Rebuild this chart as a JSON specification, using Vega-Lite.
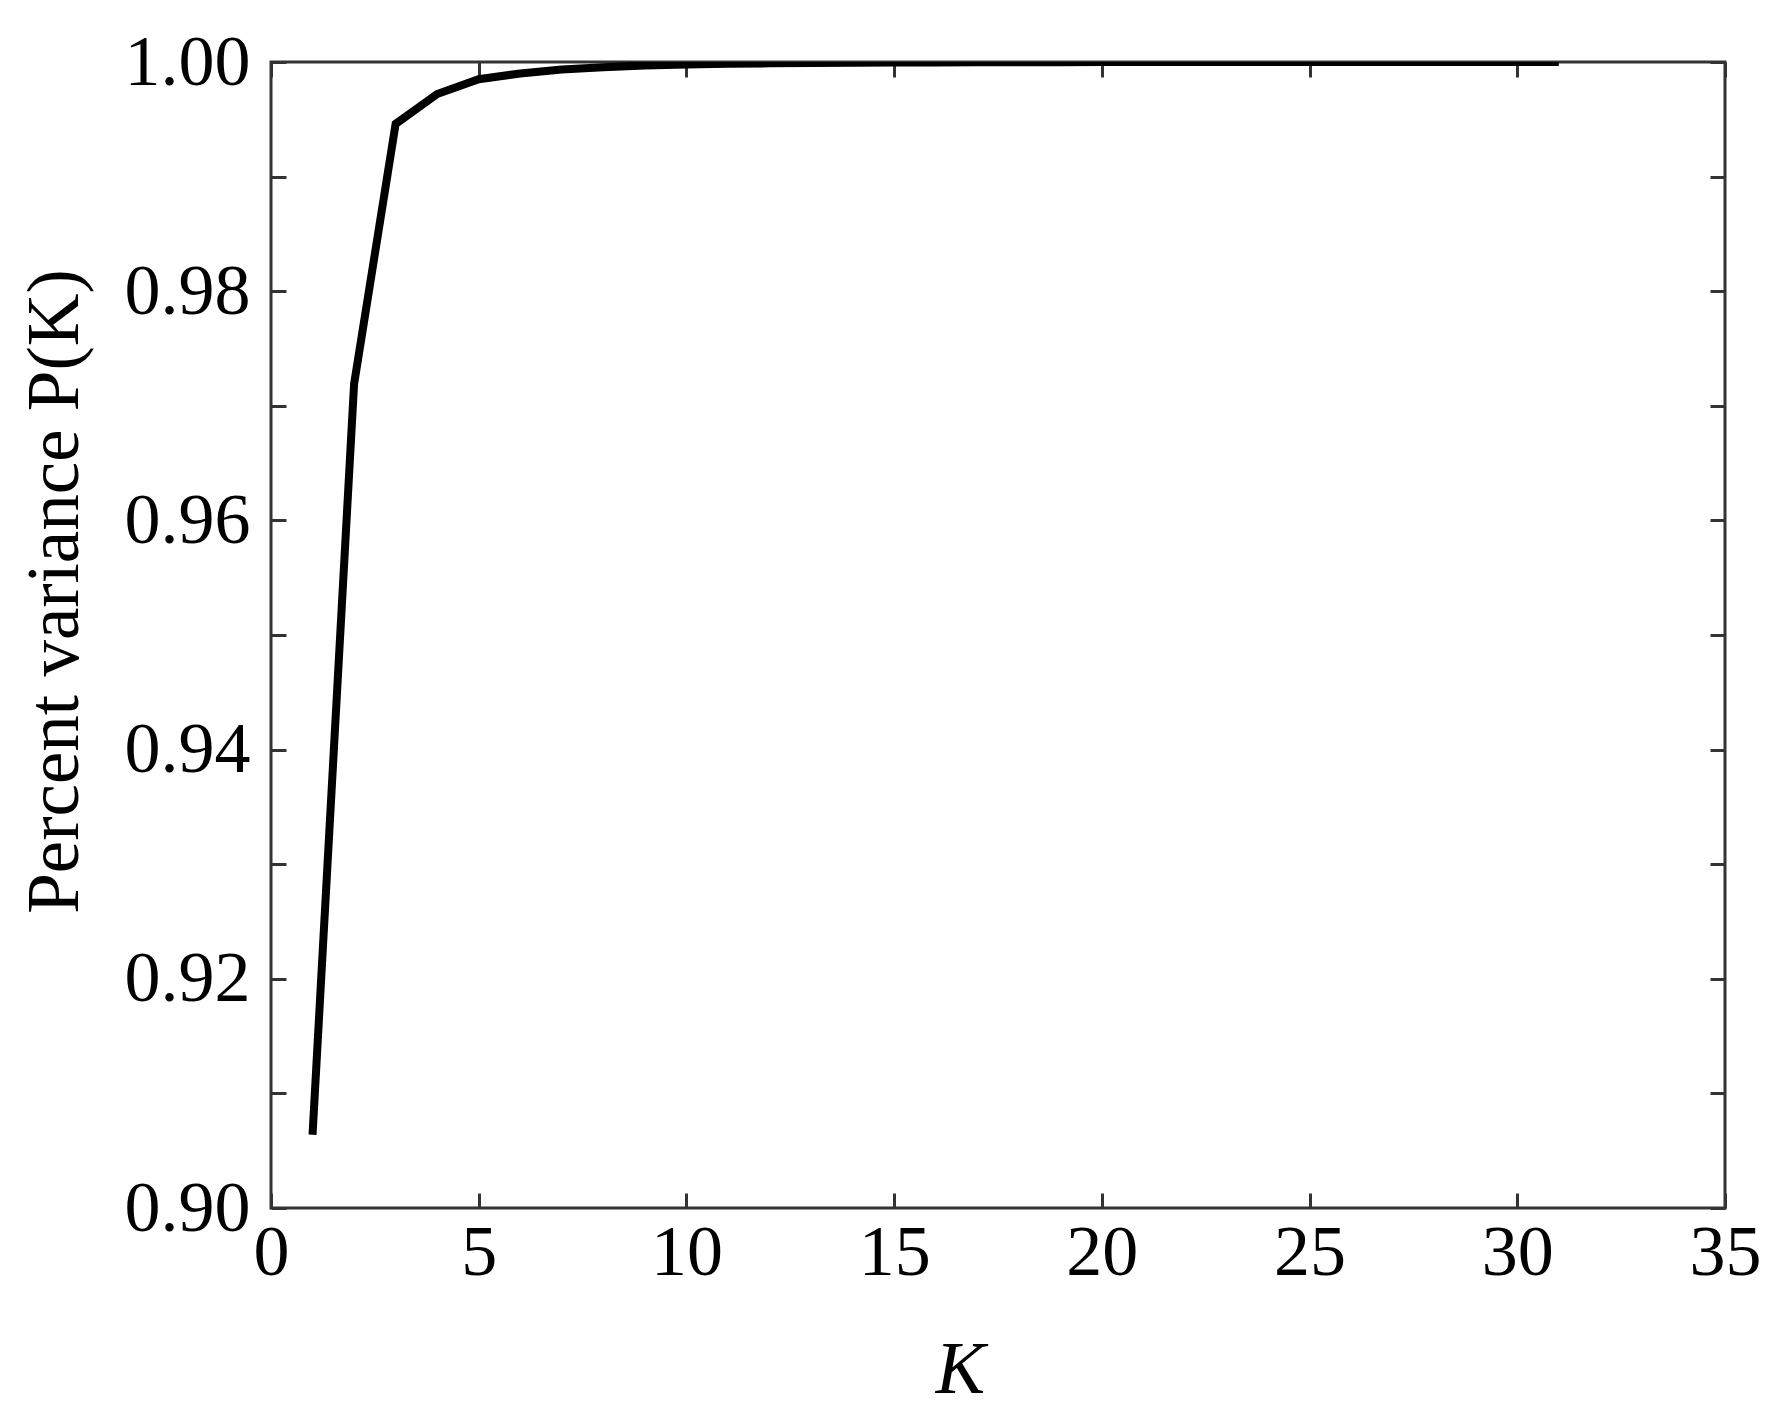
{
  "$schema": "https://vega.github.io/schema/vega-lite/v6.json",
  "autosize": "none",
  "width": 1454,
  "height": 1146,
  "padding": {"left": 271, "top": 62, "right": 57, "bottom": 211},
  "background": "white",
  "config": {
    "view": {"stroke": "#333333", "strokeWidth": 3},
    "font": "Liberation Serif",
    "axis": {
      "domain": false,
      "grid": false,
      "tickColor": "#333333",
      "tickWidth": 3,
      "tickSize": -15,
      "labelFont": "Liberation Serif",
      "labelFontSize": 72,
      "labelColor": "black",
      "titleFont": "Liberation Serif",
      "titleFontSize": 73,
      "titleFontWeight": "normal",
      "titleColor": "black",
      "labelFlush": false,
      "labelOverlap": false
    }
  },
  "data": {
    "values": [
      {"K": 1, "P": 0.9064},
      {"K": 2, "P": 0.9719},
      {"K": 3, "P": 0.9946},
      {"K": 4, "P": 0.9972},
      {"K": 5, "P": 0.9985},
      {"K": 6, "P": 0.9990},
      {"K": 7, "P": 0.99935},
      {"K": 8, "P": 0.99955},
      {"K": 9, "P": 0.9997},
      {"K": 10, "P": 0.99978},
      {"K": 11, "P": 0.99984},
      {"K": 12, "P": 0.99988},
      {"K": 13, "P": 0.99991},
      {"K": 14, "P": 0.99993},
      {"K": 15, "P": 0.99995},
      {"K": 16, "P": 0.99996},
      {"K": 17, "P": 0.99997},
      {"K": 18, "P": 0.99998},
      {"K": 19, "P": 0.99998},
      {"K": 20, "P": 0.99999},
      {"K": 21, "P": 0.99999},
      {"K": 22, "P": 0.99999},
      {"K": 23, "P": 0.99999},
      {"K": 24, "P": 1.0},
      {"K": 25, "P": 1.0},
      {"K": 26, "P": 1.0},
      {"K": 27, "P": 1.0},
      {"K": 28, "P": 1.0},
      {"K": 29, "P": 1.0},
      {"K": 30, "P": 1.0},
      {"K": 31, "P": 1.0}
    ]
  },
  "layer": [
    {
      "mark": {"type": "line", "color": "black", "strokeWidth": 8, "strokeJoin": "miter", "strokeCap": "butt", "clip": true},
      "encoding": {
        "x": {
          "field": "K", "type": "quantitative",
          "scale": {"domain": [0, 35], "nice": false, "zero": false},
          "axis": {"orient": "bottom", "values": [0, 5, 10, 15, 20, 25, 30, 35], "title": "K", "titleFontStyle": "italic", "titleFontSize": 74, "titleX": 689, "labelPadding": 24, "titlePadding": 46}
        },
        "y": {
          "field": "P", "type": "quantitative",
          "scale": {"domain": [0.9, 1.0], "nice": false, "zero": false},
          "axis": {
            "orient": "left",
            "values": [0.9, 0.91, 0.92, 0.93, 0.94, 0.95, 0.96, 0.97, 0.98, 0.99, 1.0],
            "labelExpr": "round(datum.value*100) % 2 == 0 ? format(datum.value, '.2f') : ''",
            "title": "Percent variance P(K)",
            "labelPadding": 36,
            "titlePadding": 32,
            "titleY": 529
          }
        }
      }
    },
    {
      "mark": {"type": "line", "opacity": 0},
      "encoding": {
        "x": {
          "field": "K", "type": "quantitative",
          "scale": {"domain": [0, 35], "nice": false, "zero": false},
          "axis": {"orient": "top", "values": [0, 5, 10, 15, 20, 25, 30, 35], "labels": false, "title": null}
        },
        "y": {
          "field": "P", "type": "quantitative",
          "scale": {"domain": [0.9, 1.0], "nice": false, "zero": false},
          "axis": {"orient": "right", "values": [0.9, 0.91, 0.92, 0.93, 0.94, 0.95, 0.96, 0.97, 0.98, 0.99, 1.0], "labels": false, "title": null}
        }
      }
    }
  ],
  "resolve": {"axis": {"x": "independent", "y": "independent"}}
}
